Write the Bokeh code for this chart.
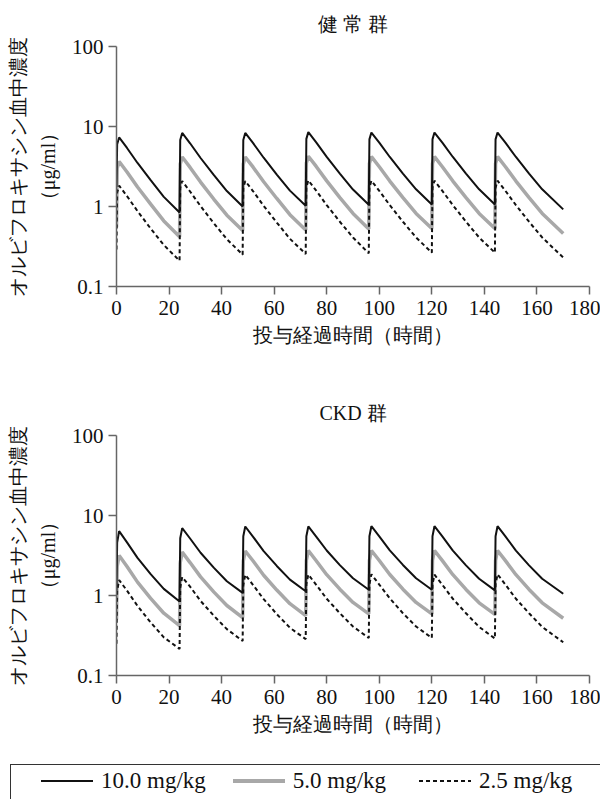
from bokeh.plotting import figure
from bokeh.models import Range1d, FixedTicker, ColumnDataSource, Div
from bokeh.layouts import column
from bokeh.embed import file_html
from bokeh.resources import INLINE

# ---------------- data ----------------
hours = [0, 0.25, 1, 4, 8, 13, 18,
         24, 24.25, 25, 28, 32, 37, 42,
         48, 48.25, 49, 52, 56, 61, 66,
         72, 72.25, 73, 76, 80, 85, 90,
         96, 96.25, 97, 100, 104, 109, 114,
         120, 120.25, 121, 124, 128, 133, 138,
         144, 144.25, 145, 148, 152, 157, 162,
         170]

healthy_10 = [1.75, 6.0, 7.3, 5.39, 3.50, 2.13, 1.32,
              0.84, 6.8, 8.3, 6.17, 4.04, 2.48, 1.56,
              1.00, 6.8, 8.3, 6.19, 4.07, 2.51, 1.58,
              1.02, 7.0, 8.5, 6.34, 4.17, 2.58, 1.63,
              1.05, 6.9, 8.4, 6.28, 4.16, 2.58, 1.64,
              1.06, 6.9, 8.4, 6.28, 4.16, 2.58, 1.64,
              1.06, 6.9, 8.4, 6.28, 4.16, 2.58, 1.64,
              0.92]
healthy_5 = [0.55, 3.0, 3.65, 2.70, 1.75, 1.07, 0.66,
             0.42, 3.4, 4.15, 3.08, 2.02, 1.24, 0.78,
             0.50, 3.4, 4.15, 3.10, 2.04, 1.26, 0.79,
             0.51, 3.5, 4.25, 3.17, 2.09, 1.29, 0.82,
             0.525, 3.45, 4.2, 3.14, 2.08, 1.29, 0.82,
             0.53, 3.45, 4.2, 3.14, 2.08, 1.29, 0.82,
             0.53, 3.45, 4.2, 3.14, 2.08, 1.29, 0.82,
             0.46]
healthy_25 = [0.29, 1.5, 1.82, 1.35, 0.875, 0.53, 0.33,
              0.21, 1.7, 2.08, 1.54, 1.01, 0.62, 0.39,
              0.25, 1.7, 2.08, 1.55, 1.02, 0.63, 0.395,
              0.255, 1.74, 2.12, 1.58, 1.04, 0.645, 0.41,
              0.26, 1.72, 2.1, 1.57, 1.04, 0.645, 0.41,
              0.265, 1.72, 2.1, 1.57, 1.04, 0.645, 0.41,
              0.265, 1.72, 2.1, 1.57, 1.04, 0.645, 0.41,
              0.23]

ckd_10 = [1.15, 4.6, 6.37, 4.61, 2.95, 1.85, 1.21,
          0.84, 5.2, 6.95, 5.16, 3.42, 2.23, 1.51,
          1.08, 5.5, 7.29, 5.41, 3.59, 2.34, 1.58,
          1.13, 5.5, 7.3, 5.45, 3.65, 2.40, 1.64,
          1.18, 5.5, 7.35, 5.48, 3.67, 2.41, 1.64,
          1.18, 5.5, 7.35, 5.47, 3.64, 2.38, 1.62,
          1.16, 5.5, 7.35, 5.47, 3.64, 2.38, 1.62,
          1.05]
ckd_5 = [0.5, 2.3, 3.16, 2.3, 1.47, 0.92, 0.6,
         0.42, 2.6, 3.48, 2.58, 1.71, 1.11, 0.75,
         0.53, 2.7, 3.6, 2.7, 1.79, 1.17, 0.79,
         0.56, 2.75, 3.65, 2.72, 1.82, 1.2, 0.82,
         0.59, 2.75, 3.65, 2.74, 1.83, 1.2, 0.82,
         0.59, 2.75, 3.65, 2.73, 1.82, 1.19, 0.81,
         0.58, 2.75, 3.65, 2.73, 1.82, 1.19, 0.81,
         0.52]
ckd_25 = [0.25, 1.15, 1.56, 1.15, 0.74, 0.46, 0.30,
          0.215, 1.25, 1.7, 1.29, 0.855, 0.56, 0.38,
          0.27, 1.35, 1.82, 1.35, 0.9, 0.585, 0.395,
          0.285, 1.38, 1.83, 1.36, 0.91, 0.6, 0.41,
          0.295, 1.38, 1.84, 1.37, 0.92, 0.6, 0.41,
          0.295, 1.37, 1.82, 1.36, 0.91, 0.6, 0.405,
          0.29, 1.38, 1.84, 1.37, 0.91, 0.6, 0.405,
          0.26]

x_ticks = [0, 20, 40, 60, 80, 100, 120, 140, 160, 180]
y_ticks = [0.1, 1, 10, 100]
y_tick_labels = ["0.1", "1", "10", "100"]
dose_labels = ["10.0 mg/kg", "5.0 mg/kg", "2.5 mg/kg"]
panel_titles = ["健 常 群", "CKD 群"]
x_title = "投与経過時間（時間）"
y_title = "オルビフロキサシン血中濃度\n（μg/ml）"

# ---------------- styling ----------------
FONT = "Liberation Serif"
AXIS_COLOR = "#666666"
BLACK = "#111111"
GRAY = "#a8a8a8"
W = 600
LEFT = 116
RIGHT = 11


def make_panel(title, s10, s5, s25, height, top, bottom):
    p = figure(width=W, height=height, x_range=Range1d(0, 180),
               y_range=Range1d(0.1, 100), y_axis_type="log",
               output_backend="svg", toolbar_location=None,
               min_border_left=LEFT, min_border_right=RIGHT,
               min_border_top=top, min_border_bottom=bottom)
    p.title.text = title
    p.title.align = "center"
    p.title.vertical_align = "middle"
    p.title.text_font = FONT
    p.title.text_font_size = "20px"
    p.title.text_font_style = "normal"
    p.title.text_color = "#111111"
    p.title.standoff = 21
    p.outline_line_color = None
    p.grid.visible = False
    p.background_fill_color = "white"

    for ax in (p.xaxis[0], p.yaxis[0]):
        ax.axis_line_color = AXIS_COLOR
        ax.axis_line_width = 1.5
        ax.major_tick_line_color = AXIS_COLOR
        ax.major_tick_line_width = 1.5
        ax.major_tick_out = 8
        ax.major_tick_in = 0
        ax.minor_tick_line_color = None
        ax.major_label_text_font = FONT
        ax.major_label_text_font_size = "21px"
        ax.major_label_text_color = "#111111"
        ax.axis_label_text_font = FONT
        ax.axis_label_text_font_style = "normal"
        ax.axis_label_text_color = "#111111"

    p.xaxis.ticker = FixedTicker(ticks=x_ticks)
    p.xaxis.major_label_standoff = 6
    p.xaxis.axis_label = x_title
    p.xaxis.axis_label_text_font_size = "20px"
    p.xaxis.axis_label_standoff = 6

    p.yaxis.ticker = FixedTicker(ticks=y_ticks)
    p.yaxis.major_label_overrides = {t: lab for t, lab in zip(y_ticks, y_tick_labels)}
    p.yaxis.axis_label = y_title
    p.yaxis.axis_label_text_font_size = "20px"
    p.yaxis.axis_label_text_line_height = 1.35
    p.yaxis.axis_label_standoff = 10

    src = ColumnDataSource(data=dict(t=hours, c10=s10, c5=s5, c25=s25))
    p.line("t", "c5", source=src, line_color=GRAY, line_width=3.5)
    p.line("t", "c10", source=src, line_color=BLACK, line_width=2)
    p.line("t", "c25", source=src, line_color=BLACK, line_width=2, line_dash="4 3")
    return p


p1 = make_panel(panel_titles[0], healthy_10, healthy_5, healthy_25, 360, 46, 74)
p2 = make_panel(panel_titles[1], ckd_10, ckd_5, ckd_25, 385, 75, 70)

# ---------------- legend strip (HTML, real text) ----------------
LH = 54
swatches = [
    f"height:2px;background:{BLACK};",
    f"height:4px;background:{GRAY};",
    f"height:2px;background:repeating-linear-gradient(to right,{BLACK} 0 4px,transparent 4px 7px);",
]
gaps = [27, 33, 0]
items_html = "".join(
    f'<span style="display:inline-block;width:52px;{sw}"></span>'
    f'<span style="margin-left:8px;margin-right:{g}px;">{lab}</span>'
    for sw, lab, g in zip(swatches, dose_labels, gaps)
)
legend_html = (
    f'<div style="position:relative;width:{W}px;height:{LH}px;overflow:hidden;">'
    f'<div style="position:absolute;left:10px;top:19px;width:{W + 40}px;height:80px;'
    f'border:1px solid #333;box-sizing:border-box;"></div>'
    f'<div style="position:absolute;left:41px;top:21px;height:30px;display:flex;align-items:center;'
    f"font-family:'Liberation Serif',serif;font-size:23px;color:#111;white-space:nowrap;\">"
    f'{items_html}</div></div>'
)
legend_div = Div(text=legend_html, width=W, height=LH, margin=(0, 0, 0, 0))

layout = column(p1, p2, legend_div)
open("out.html", "w").write(file_html(layout, INLINE))
